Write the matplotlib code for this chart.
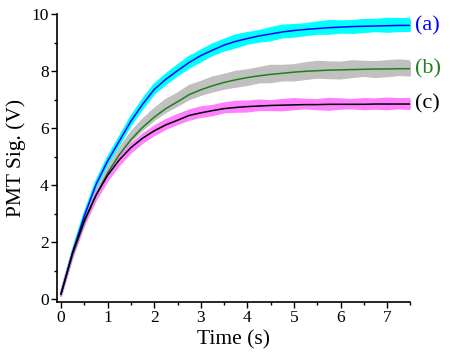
import matplotlib
matplotlib.use("Agg")
import matplotlib.pyplot as plt
import matplotlib.ticker as mticker
import numpy as np

# ── data ───────────────────────────────────────────────────────────────────────
t = [0.0, 0.25, 0.5, 0.75, 1.0, 1.25, 1.5, 1.75, 2.0, 2.25, 2.5, 2.75, 3.0, 3.25,
     3.5, 3.75, 4.0, 4.25, 4.5, 4.75, 5.0, 5.25, 5.5, 5.75, 6.0, 6.25, 6.5, 6.75,
     7.0, 7.25, 7.5]

# fitted curves
fit_a = [0.18, 1.65, 2.92, 4.02, 4.85, 5.55, 6.25, 6.84, 7.36, 7.72, 8.02, 8.31,
         8.55, 8.74, 8.92, 9.05, 9.15, 9.24, 9.31, 9.38, 9.43, 9.47, 9.50, 9.53,
         9.55, 9.57, 9.58, 9.59, 9.60, 9.61, 9.61]
fit_b = [0.18, 1.56, 2.70, 3.64, 4.43, 5.07, 5.60, 6.03, 6.39, 6.69, 6.93, 7.18,
         7.35, 7.49, 7.61, 7.70, 7.78, 7.84, 7.89, 7.93, 7.97, 8.00, 8.02, 8.04,
         8.05, 8.06, 8.07, 8.08, 8.08, 8.09, 8.09]
fit_c = [0.18, 1.63, 2.76, 3.65, 4.35, 4.89, 5.32, 5.65, 5.91, 6.12, 6.28, 6.45,
         6.54, 6.62, 6.69, 6.73, 6.76, 6.78, 6.80, 6.81, 6.82, 6.83, 6.83, 6.84,
         6.84, 6.84, 6.84, 6.85, 6.85, 6.85, 6.85]

# spread of the measured (noisy) signal above / below each fit
noise_a_up = [0.06, 0.08, 0.09, 0.10, 0.11, 0.12, 0.14, 0.15, 0.17, 0.16, 0.18,
              0.19, 0.17, 0.20, 0.18, 0.21, 0.19, 0.17, 0.20, 0.22, 0.19, 0.18,
              0.21, 0.23, 0.20, 0.19, 0.22, 0.21, 0.24, 0.22, 0.23]
noise_a_dn = [0.06, 0.08, 0.09, 0.10, 0.11, 0.12, 0.13, 0.15, 0.14, 0.17, 0.16,
              0.18, 0.20, 0.17, 0.19, 0.21, 0.18, 0.20, 0.22, 0.19, 0.21, 0.20,
              0.18, 0.21, 0.19, 0.22, 0.20, 0.18, 0.21, 0.20, 0.19]
noise_b_up = [0.05, 0.07, 0.09, 0.12, 0.15, 0.20, 0.24, 0.26, 0.28, 0.30, 0.28,
              0.30, 0.27, 0.29, 0.26, 0.28, 0.25, 0.27, 0.30, 0.26, 0.24, 0.28,
              0.31, 0.27, 0.25, 0.29, 0.26, 0.24, 0.27, 0.29, 0.26]
noise_b_dn = [0.05, 0.06, 0.07, 0.06, 0.05, 0.05, 0.06, 0.08, 0.10, 0.12, 0.14,
              0.16, 0.18, 0.20, 0.22, 0.24, 0.26, 0.23, 0.27, 0.25, 0.29, 0.27,
              0.24, 0.28, 0.30, 0.26, 0.23, 0.28, 0.25, 0.22, 0.24]
noise_c_up = [0.04, 0.05, 0.05, 0.06, 0.07, 0.09, 0.10, 0.12, 0.14, 0.16, 0.18,
              0.17, 0.19, 0.16, 0.18, 0.20, 0.17, 0.19, 0.15, 0.18, 0.20, 0.17,
              0.16, 0.19, 0.17, 0.15, 0.18, 0.16, 0.19, 0.17, 0.18]
noise_c_dn = [0.06, 0.12, 0.15, 0.17, 0.18, 0.18, 0.17, 0.16, 0.15, 0.14, 0.13,
              0.15, 0.14, 0.16, 0.13, 0.15, 0.17, 0.14, 0.16, 0.18, 0.15, 0.13,
              0.16, 0.19, 0.15, 0.14, 0.17, 0.16, 0.18, 0.15, 0.17]

labels = ["(a)", "(b)", "(c)"]

# ── colours ────────────────────────────────────────────────────────────────────
C_NOISE = ["#00FFFF", "#C0C0C0", "#FF80FF"]
C_FIT = ["#0000FF", "#1E801E", "#000000"]

plt.rcParams["font.family"] = ["Liberation Serif", "DejaVu Serif"]

fig = plt.figure(figsize=(4.5, 3.63), dpi=100)
ax = fig.add_axes([0.1267, 0.168, 0.7855, 0.7926])

series = [
    (fit_a, noise_a_up, noise_a_dn),
    (fit_b, noise_b_up, noise_b_dn),
    (fit_c, noise_c_up, noise_c_dn),
]
tt = np.array(t)

# noisy measurements first, then the fits on top
for (fit, up, dn), cn in zip(series, C_NOISE):
    f = np.array(fit)
    hi = f + np.array(up)
    lo = f - np.array(dn)
    ax.fill_between(tt, lo, hi, color=cn, linewidth=0, zorder=1)
    ax.plot(tt, hi, color=cn, linewidth=1.6, zorder=1, solid_capstyle="round")
    ax.plot(tt, lo, color=cn, linewidth=1.6, zorder=1, solid_capstyle="round")

for (fit, _, _), cf in zip(series, C_FIT):
    ax.plot(tt, fit, color=cf, linewidth=1.1, zorder=3)

for (fit, _, _), cf, lab in zip(series, C_FIT, labels):
    ax.text(7.6, fit[-1], lab, color=cf, fontsize=16, va="center", ha="left",
            clip_on=False)

ax.set_xlim(-0.086, 7.5)
ax.set_ylim(-0.1, 10)
ax.xaxis.set_major_locator(mticker.MultipleLocator(1))
ax.xaxis.set_minor_locator(mticker.MultipleLocator(0.5))
ax.yaxis.set_major_locator(mticker.MultipleLocator(2))
ax.yaxis.set_minor_locator(mticker.MultipleLocator(1))
ax.tick_params(which="major", direction="out", length=4, width=1.0, labelsize=12.5,
               pad=2)
ax.tick_params(which="minor", direction="out", length=2.5, width=1.0)

for side in ("top", "right"):
    ax.spines[side].set_visible(False)
for side in ("left", "bottom"):
    ax.spines[side].set_linewidth(1.2)

ax.set_xlabel("Time (s)", fontsize=15.5, labelpad=3)
ax.set_ylabel("PMT Sig. (V)", fontsize=15.5, labelpad=4)

fig.savefig("out.png", dpi=100)
